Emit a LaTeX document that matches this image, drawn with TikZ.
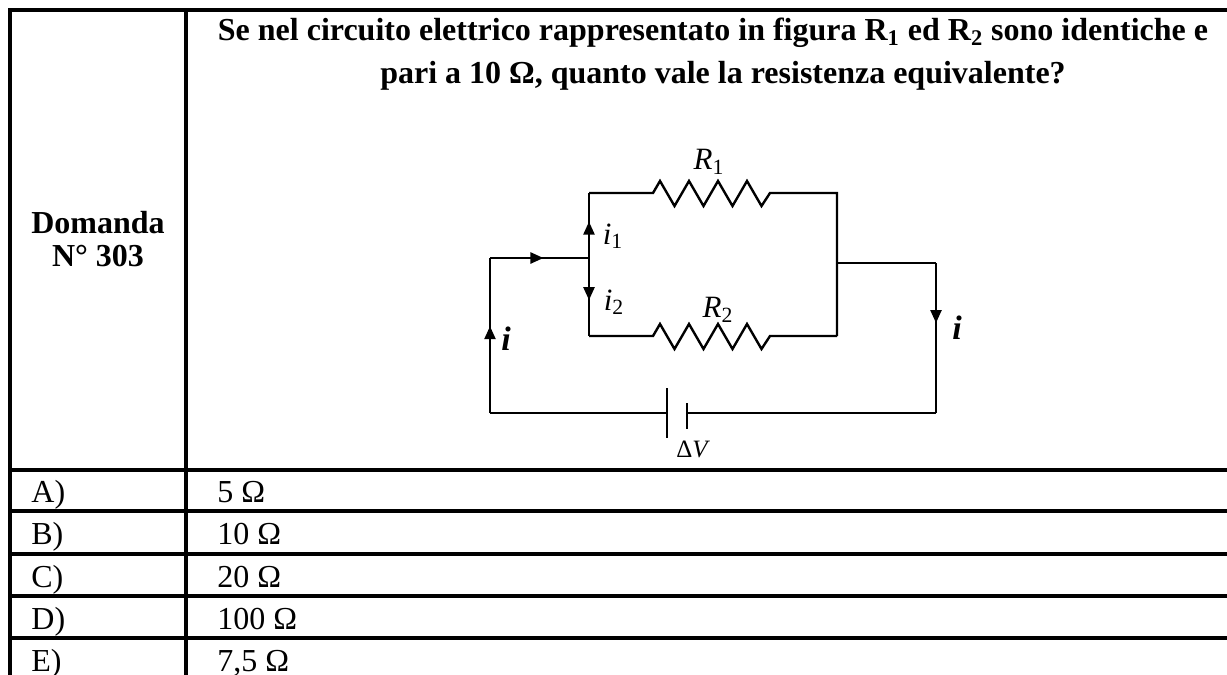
\documentclass[tikz,border=0pt]{standalone}
\usepackage{fontspec}
\setmainfont{Liberation Serif}
\usetikzlibrary{arrows.meta,decorations.markings}

\begin{document}
\begin{tikzpicture}[x=0.5pt,y=-0.5pt,
  rule/.style={line width=1.6pt},
  wire/.style={line width=1.2pt},
  plate/.style={line width=1.3pt},
  flow/.style={postaction={decorate},decoration={markings,
    mark=at position #1 with {\arrow{Triangle[length=6.5pt,width=5.5pt]}}}},
  cell/.style={inner sep=0pt,anchor=base west,font=\fontsize{16}{19}\selectfont},
  head/.style={inner sep=0pt,anchor=base,font=\fontsize{16}{19}\selectfont\bfseries},
  lab/.style={inner sep=0pt,font=\fontsize{15.5}{18}\selectfont\itshape},
  cur/.style={inner sep=0pt,font=\fontsize{17}{20}\selectfont\bfseries\itshape}]
\useasboundingbox (0,0) rectangle (1227,675);
\clip (0,0) rectangle (1227,675);

% table rules
\draw[rule] (10,690) -- (10,10) -- (1240,10);
\draw[rule] (186,10) -- (186,690);
\foreach \y in {470,511,554,596,638}
  \draw[rule] (10,\y) -- (1240,\y);

% header
\node[head] (num1) at (98,233) {Domanda};
\node[head] (num2) at (98,266) {N° 303};
\node[head] (q1) at (713,40) {Se nel circuito elettrico rappresentato in figura R\textsubscript{1} ed R\textsubscript{2} sono identiche e};
\node[head] (q2) at (723,83) {pari a 10 Ω, quanto vale la resistenza equivalente?};

% answers
\node[cell] (la) at (31,502) {A)};
\node[cell] (va) at (217,502) {5 Ω};
\node[cell] (lb) at (31,544) {B)};
\node[cell] (vb) at (217,544) {10 Ω};
\node[cell] (lc) at (31,587) {C)};
\node[cell] (vc) at (217,587) {20 Ω};
\node[cell] (ld) at (31,629) {D)};
\node[cell] (vd) at (217,629) {100 Ω};
\node[cell] (le) at (31,671) {E)};
\node[cell] (ve) at (217,671) {7,5 Ω};

% circuit corners
\coordinate (bl) at (490,413);
\coordinate (tl) at (490,258);
\coordinate (jl) at (589,258);
\coordinate (jlt) at (589,193);
\coordinate (jlb) at (589,336);
\coordinate (r1in) at (653,193);
\coordinate (r1out) at (770,193);
\coordinate (r2in) at (653,336);
\coordinate (r2out) at (770,336);
\coordinate (jrt) at (837,193);
\coordinate (jrb) at (837,336);
\coordinate (jr) at (837,263);
\coordinate (tr) at (936,263);
\coordinate (br) at (936,413);
\coordinate (batl) at (667,413);
\coordinate (batr) at (687,413);

% wires
\draw[wire,flow=0.56] (bl) -- (tl);
\draw[wire,flow=0.54] (tl) -- (jl);
\draw[wire,flow=0.56] (jl) -- (jlt);
\draw[wire,flow=0.54] (jl) -- (jlb);
\draw[wire] (jlt) -- (r1in) -- ++(7,-12)
  \foreach \k in {1,2,3} {-- ++(14.5,25) -- ++(14.5,-25)} -- ++(14.5,25) -- (r1out) -- (jrt) -- (jrb);
\draw[wire] (jlb) -- (r2in) -- ++(7,-12)
  \foreach \k in {1,2,3} {-- ++(14.5,25) -- ++(14.5,-25)} -- ++(14.5,25) -- (r2out) -- (jrb);
\draw[wire] (jr) -- (tr);
\draw[wire,flow=0.4] (tr) -- (br);
\draw[wire] (br) -- (batr);
\draw[wire] (batl) -- (bl);

% battery
\draw[plate] (667,388) -- (667,438);
\draw[plate] (687,403) -- (687,429);

% labels
\node[lab] (lr1) at (709,162) {R\textsubscript{\upshape 1}};
\node[lab] (lr2) at (718,310) {R\textsubscript{\upshape 2}};
\node[lab] (li1) at (613,236) {i\textsubscript{\upshape 1}};
\node[lab] (li2) at (614,302) {i\textsubscript{\upshape 2}};
\node[cur] (lil) at (506,339) {i};
\node[cur] (lir) at (957,328) {i};
\node[lab,font=\fontsize{12.5}{15}\selectfont] (ldv) at (692,449) {\upshape Δ\itshape V};

\end{tikzpicture}
\end{document}
